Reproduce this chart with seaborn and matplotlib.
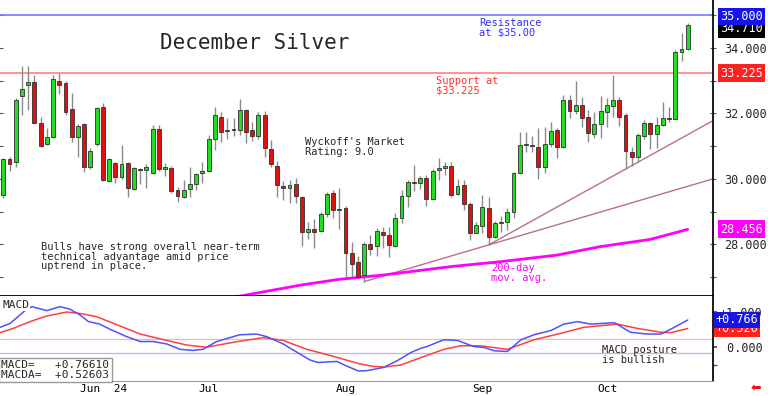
import numpy as np
import pandas as pd
import seaborn as sns
import matplotlib.pyplot as plt

# daily candles, mid-May to Oct 2024
opens = [29.51, 30.61, 30.52, 32.53, 32.85, 32.96, 31.69, 31.06, 31.27, 33.00,
         32.93, 32.12, 31.29, 31.66, 30.35, 31.05, 32.20, 29.94, 30.47, 30.06,
         30.47, 29.68, 30.28, 30.27, 30.17, 31.51, 30.29, 30.32, 29.66, 29.45,
         29.68, 29.83, 30.17, 30.24, 31.21, 31.88, 31.47, 31.52, 31.49, 32.10,
         31.49, 31.31, 31.95, 30.91, 30.39, 29.78, 29.71, 29.83, 29.45, 28.37,
         28.47, 28.41, 28.93, 29.56, 29.04, 29.10, 27.73, 27.45, 27.06, 28.00,
         27.95, 28.38, 28.28, 27.95, 28.79, 29.47, 29.89, 29.86, 30.01, 29.37,
         30.27, 30.32, 30.40, 29.53, 29.81, 29.22, 28.35, 28.56, 29.10, 28.23,
         28.64, 28.67, 28.98, 30.19, 31.02, 31.02, 30.98, 30.37, 31.06, 31.49,
         30.98, 32.41, 32.07, 32.25, 31.90, 31.37, 31.67, 32.05, 32.22, 32.41,
         31.95, 30.83, 30.67, 31.31, 31.69, 31.36, 31.64, 31.86, 31.83, 33.86,
         33.95]
highs = [30.65, 30.68, 32.48, 33.44, 33.44, 33.16, 31.88, 31.54, 33.17, 33.24,
         32.98, 32.63, 31.67, 31.70, 30.93, 32.20, 32.31, 30.64, 30.50, 31.03,
         30.50, 30.35, 30.32, 30.44, 31.64, 31.64, 30.47, 30.39, 29.74, 29.96,
         30.35, 30.19, 30.52, 31.34, 32.20, 32.05, 31.85, 31.87, 32.43, 32.12,
         31.74, 32.05, 32.08, 31.18, 30.54, 29.93, 29.96, 30.01, 29.47, 28.69,
         28.77, 28.98, 29.61, 29.66, 29.71, 29.17, 28.08, 27.64, 28.08, 28.28,
         28.49, 28.54, 28.54, 28.95, 29.66, 29.96, 30.42, 30.09, 30.12, 30.30,
         30.63, 30.52, 30.50, 29.99, 29.96, 29.30, 28.69, 29.51, 29.45, 28.70,
         28.86, 29.10, 30.22, 31.44, 31.44, 31.31, 31.54, 31.59, 31.74, 31.54,
         32.56, 32.56, 32.99, 32.51, 32.10, 32.05, 32.54, 32.46, 33.17, 32.51,
         32.00, 30.98, 31.39, 31.81, 31.74, 31.88, 32.35, 32.18, 33.93, 34.44,
         34.75]
lows = [29.40, 30.24, 30.37, 31.95, 32.10, 31.69, 30.98, 31.04, 31.25, 32.58,
        31.95, 31.13, 30.67, 30.22, 30.30, 31.00, 29.92, 29.89, 29.88, 29.99,
        29.45, 29.65, 29.83, 29.71, 30.14, 30.25, 30.09, 29.56, 29.30, 29.40,
        29.45, 29.66, 29.88, 30.22, 30.88, 31.11, 31.21, 31.32, 31.34, 31.08,
        31.15, 31.21, 30.67, 30.37, 29.45, 29.35, 29.25, 29.25, 27.95, 28.15,
        27.90, 28.37, 28.82, 28.79, 28.47, 27.01, 27.01, 27.01, 26.86, 27.67,
        27.64, 27.88, 27.62, 27.93, 28.64, 29.15, 29.64, 29.68, 29.17, 29.35,
        29.96, 30.12, 29.45, 29.51, 29.05, 28.13, 28.34, 28.34, 27.98, 28.20,
        28.38, 28.44, 28.80, 30.17, 30.83, 30.83, 29.99, 30.19, 30.98, 30.63,
        30.93, 31.85, 31.97, 31.59, 31.13, 31.24, 31.24, 31.59, 31.90, 31.61,
        30.29, 30.39, 30.51, 31.22, 30.90, 30.93, 31.61, 31.74, 31.82, 33.60,
        33.93]
closes = [30.60, 30.46, 32.41, 32.73, 32.96, 31.69, 31.01, 31.27, 33.04, 32.85,
          32.05, 31.27, 31.61, 30.35, 30.86, 32.15, 29.96, 30.60, 30.06, 30.44,
          29.73, 30.32, 30.26, 30.35, 31.51, 30.30, 30.35, 29.64, 29.47, 29.66,
          29.83, 30.14, 30.24, 31.21, 31.95, 31.42, 31.50, 31.50, 32.10, 31.42,
          31.32, 31.95, 30.93, 30.44, 29.81, 29.73, 29.81, 29.47, 28.37, 28.47,
          28.37, 28.93, 29.53, 29.05, 29.06, 27.73, 27.39, 27.01, 28.00, 27.86,
          28.41, 28.28, 27.98, 28.79, 29.47, 29.89, 29.87, 30.01, 29.37, 30.25,
          30.34, 30.40, 29.51, 29.79, 29.22, 28.35, 28.59, 29.13, 28.23, 28.66,
          28.69, 28.98, 30.19, 31.03, 31.04, 31.00, 30.37, 31.06, 31.46, 30.96,
          32.41, 32.08, 32.25, 31.87, 31.39, 31.67, 32.07, 32.25, 32.41, 31.90,
          30.85, 30.67, 31.34, 31.69, 31.36, 31.64, 31.85, 31.84, 33.88, 33.95,
          34.71]

# 200-day moving average (bar index, value)
ma_bar = [37, 41, 48, 54, 61, 72, 80, 89, 96, 104, 110]
ma_val = [26.38, 26.52, 26.76, 26.93, 27.06, 27.32, 27.47, 27.67, 27.93, 28.15, 28.456]

# uptrend lines (bar index, price)
trend1_bar = [58, 114.1]
trend1_val = [26.86, 30.00]
trend2_bar = [78, 114.1]
trend2_val = [27.98, 31.78]

# MACD (blue) and its average (red)
macd_bar = [-0.5, 1.1, 3.5, 4.6, 7.0, 9.1, 10.7, 12.3, 13.7, 15.5, 17.1, 19.8, 22.0,
            24.1, 26.3, 28.4, 30.5, 32.1, 34.3, 38.0, 40.7, 42.3, 45.0, 46.6, 49.3,
            50.6, 53.6, 55.2, 57.1, 58.4, 61.1, 63.3, 65.5, 67.1, 68.1, 70.8, 73.0,
            75.6, 77.3, 78.9, 81.0, 83.2, 85.3, 88.0, 90.1, 92.3, 94.4, 98.2, 100.8,
            103.5, 105.7, 107.3, 110.0]
macd_val = [0.56, 0.67, 1.03, 1.14, 1.03, 1.14, 1.07, 0.91, 0.72, 0.65, 0.51, 0.30, 0.16,
            0.16, 0.09, -0.06, -0.09, -0.06, 0.16, 0.35, 0.37, 0.30, 0.09, -0.08, -0.36,
            -0.43, -0.40, -0.53, -0.67, -0.66, -0.57, -0.38, -0.15, -0.03, 0.02, 0.21, 0.19,
            0.02, -0.01, -0.10, -0.12, 0.21, 0.35, 0.47, 0.65, 0.72, 0.65, 0.69, 0.42,
            0.37, 0.37, 0.51, 0.766]
sig_bar = [-0.5, 1.6, 4.3, 7.0, 10.2, 12.3, 15.0, 17.7, 22.0, 26.3, 29.5, 32.7, 37.0,
           41.8, 45.0, 48.8, 53.1, 57.3, 59.5, 61.2, 63.9, 67.6, 70.8, 73.5, 76.7,
           81.0, 85.3, 89.6, 93.3, 98.7, 101.9, 105.7, 107.3, 110.0]
sig_val = [0.41, 0.53, 0.72, 0.88, 0.99, 0.95, 0.86, 0.67, 0.37, 0.19, 0.06, 0.00, 0.14,
           0.27, 0.19, -0.06, -0.26, -0.47, -0.54, -0.56, -0.50, -0.26, -0.06, 0.04, 0.04,
           -0.06, 0.21, 0.39, 0.56, 0.65, 0.53, 0.42, 0.41, 0.526]

month_bar = [12, 31, 53, 75, 95]
month_lbl = ['Jun  24', 'Jul', 'Aug', 'Sep', 'Oct']

resistance = 35.0
support = 33.225
last_close = 34.710
ma_last = 28.456
macd_last = 0.76610
sig_last = 0.52603

sns.set_theme(style='white')
plt.rcParams['font.family'] = ['DejaVu Sans Mono', 'DejaVu Sans']

fig = plt.figure(figsize=(7.68, 3.96), dpi=100)
ax1 = fig.add_axes([0, 0.2525, 0.9284, 0.7475])
ax2 = fig.add_axes([0, 0.0379, 0.9284, 0.2146])

df = pd.DataFrame(dict(x=np.arange(len(closes)), o=opens, h=highs, l=lows, c=closes))
df['body'] = np.maximum((df.c - df.o).abs(), 0.03)
df['base'] = df[['o', 'c']].min(axis=1)
up = df.c >= df.o

# candles
ax1.vlines(df.x, df.l, df.h, color='#8a8a8a', lw=1, zorder=2)
ax1.bar(df.x[up], df.body[up], bottom=df.base[up], width=0.62, color='#22dd22',
        edgecolor='#303030', lw=0.6, zorder=3)
ax1.bar(df.x[~up], df.body[~up], bottom=df.base[~up], width=0.62, color='#dd1111',
        edgecolor='#303030', lw=0.6, zorder=3)

ax1.axhline(resistance, color='#7878ff', lw=1.2, zorder=1)
ax1.axhline(support, color='#ff8080', lw=1.2, zorder=1)
sns.lineplot(x=ma_bar, y=ma_val, ax=ax1, color='#ff00ff', lw=2, zorder=2)
sns.lineplot(x=trend1_bar, y=trend1_val, ax=ax1, color='#b87090', lw=1, zorder=1)
sns.lineplot(x=trend2_bar, y=trend2_val, ax=ax1, color='#b87090', lw=1, zorder=1)

ax1.set_xlim(-0.53, 114.06)
ax1.set_ylim(26.42, 35.46)
ax1.set_xticks([])
ax1.set_yticks([28, 30, 32, 34])
ax1.set_yticks([27, 29, 31, 33, 35], minor=True)
ax1.set_yticklabels(['28.000', '30.000', '32.000', '34.000'])
ax1.tick_params(axis='y', which='both', left=True, right=True, labelleft=False,
                labelright=True, direction='inout', length=4, width=0.8,
                color='#555555', labelsize=8.5, pad=6)
for s in ['top', 'left']:
    ax1.spines[s].set_visible(False)
ax1.spines['right'].set_color('black')
ax1.spines['bottom'].set_color('black')
ax1.spines['bottom'].set_linewidth(1.3)

# price boxes on the right
tr = ax1.get_yaxis_transform()
ax1.annotate(f'{last_close:.3f}', (1.0, last_close), xycoords=tr, xytext=(5, -3),
             textcoords='offset points', va='center', ha='left', color='white',
             fontsize=8.5, bbox=dict(boxstyle='square,pad=0.2', fc='black', ec='none'),
             annotation_clip=False)
ax1.annotate(f'{resistance:.3f}', (1.0, resistance), xycoords=tr, xytext=(5, -1),
             textcoords='offset points', va='center', ha='left', color='white',
             fontsize=8.5, bbox=dict(boxstyle='square,pad=0.2', fc='#1515e6', ec='none'),
             annotation_clip=False)
ax1.annotate(f'{support:.3f}', (1.0, support), xycoords=tr, xytext=(5, 0),
             textcoords='offset points', va='center', ha='left', color='white',
             fontsize=8.5, bbox=dict(boxstyle='square,pad=0.2', fc='#ff2020', ec='none'),
             annotation_clip=False)
ax1.annotate(f'{ma_last:.3f}', (1.0, ma_last), xycoords=tr, xytext=(5, 0),
             textcoords='offset points', va='center', ha='left', color='white',
             fontsize=8.5, bbox=dict(boxstyle='square,pad=0.2', fc='#ff00ff', ec='none'),
             annotation_clip=False)

# MACD panel
ax2.axhline(0.225, color='#ffb4b4', lw=0.9)
ax2.axhline(-0.15, color='#b4b4ff', lw=0.9)
sns.lineplot(x=sig_bar, y=sig_val, ax=ax2, color='#ff4040', lw=1.1)
sns.lineplot(x=macd_bar, y=macd_val, ax=ax2, color='#5050ff', lw=1.1)
ax2.set_xlim(-0.53, 114.06)
ax2.set_ylim(-0.95, 1.44)
ax2.set_yticks([0, 1])
ax2.set_yticks([-0.5, 0.5], minor=True)
ax2.set_yticklabels([' 0.000', '+1.000'])
ax2.tick_params(axis='y', which='both', left=False, right=True, labelleft=False,
                labelright=True, direction='out', length=3, color='#555555',
                labelsize=8.5, pad=2)
ax2.set_xticks(month_bar)
ax2.set_xticklabels([])
ax2.tick_params(axis='x', length=11, width=1, color='#555555', direction='out')
for m, lbl in zip(month_bar, month_lbl):
    ax2.text(m + 0.4, -0.04, lbl, transform=ax2.get_xaxis_transform(), va='top',
             ha='left', fontsize=8, color='black')
for s in ['top', 'left']:
    ax2.spines[s].set_visible(False)
ax2.spines['right'].set_color('black')
ax2.spines['bottom'].set_color('#999999')
ax2.spines['bottom'].set_linewidth(0.8)

tr2 = ax2.get_yaxis_transform()
ax2.text(1.004, sig_last, f'+{sig_last:.3f}', transform=tr2, va='center', ha='left',
         color='white', fontsize=8.5, bbox=dict(boxstyle='square,pad=0.15', fc='#ff2020', ec='none'))
ax2.text(1.004, macd_last, f'+{macd_last:.3f}', transform=tr2, va='center', ha='left',
         color='white', fontsize=8.5, bbox=dict(boxstyle='square,pad=0.15', fc='#1515e6', ec='none'))

ax2.text(0.003, 0.95, 'MACD', transform=ax2.transAxes, va='top', ha='left', fontsize=8,
         bbox=dict(boxstyle='square,pad=0.05', fc='white', ec='none'), zorder=5)
ax2.text(0.002, 0.01, f'MACD=   +{macd_last:.5f}\nMACDA=  +{sig_last:.5f}',
         transform=ax2.transAxes, va='bottom', ha='left', fontsize=8, linespacing=1.0,
         bbox=dict(boxstyle='square,pad=0.2', fc='white', ec='#999999'), zorder=5)
ax2.text(0.845, 0.42, 'MACD posture\nis bullish', transform=ax2.transAxes, va='top',
         ha='left', fontsize=7.5, linespacing=1.0, color='#222222')

# chart notes
fig.text(160 / 768, 1 - 33 / 396, 'December Silver', fontsize=15, va='top', ha='left')
fig.text(479 / 768, 1 - 18 / 396, 'Resistance\nat $35.00', fontsize=7.5, color='#3030ff',
         va='top', ha='left', linespacing=0.95)
fig.text(436 / 768, 1 - 76 / 396, 'Support at\n$33.225', fontsize=7.5, color='#ff3030',
         va='top', ha='left', linespacing=0.95)
fig.text(305 / 768, 1 - 137 / 396, "Wyckoff's Market\nRating: 9.0", fontsize=7.5,
         va='top', ha='left', linespacing=0.95)
fig.text(41 / 768, 1 - 242 / 396,
         'Bulls have strong overall near-term\ntechnical advantage amid price\nuptrend in place.',
         fontsize=7.5, va='top', ha='left', linespacing=0.95)
fig.text(491 / 768, 1 - 263 / 396, '200-day\nmov. avg.', fontsize=7.5, color='#ff00ff',
         va='top', ha='left', linespacing=0.95)
fig.text(756 / 768, 1 - 389 / 396, '\u2b05', fontsize=9, color='#ee1111', ha='center',
         va='center', family='DejaVu Sans')

fig.savefig('out.png', dpi=100)
